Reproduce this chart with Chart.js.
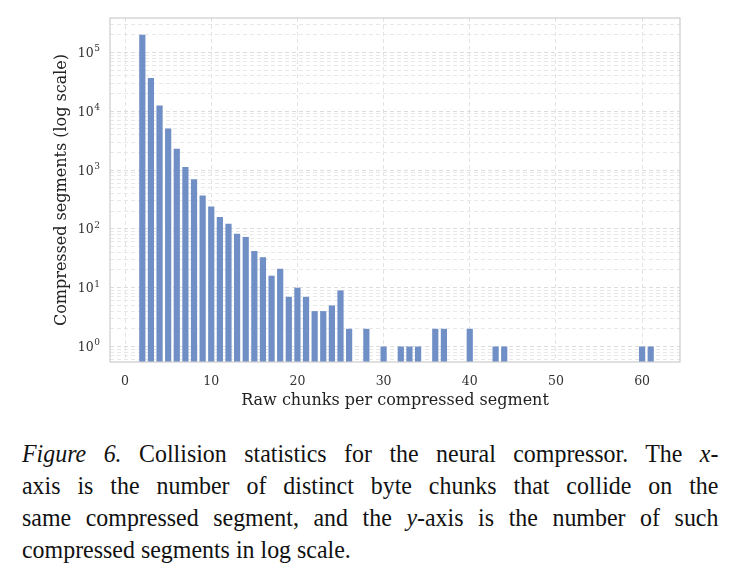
<!DOCTYPE html>
<html>
<head>
<meta charset="utf-8">
<script src="https://cdn.jsdelivr.net/npm/chart.js@4.4.1/dist/chart.umd.min.js"></script>
<style>
  html, body { margin: 0; padding: 0; background: #fff; }
  body { width: 739px; height: 574px; overflow: hidden; position: relative; }
  #wrap { position: absolute; left: 0; top: 0; width: 739px; height: 420px; }
  #caption {
    position: absolute; left: 22px; top: 438px; width: 757px;
    transform: scaleX(0.92); transform-origin: 0 0;
    font-family: "Liberation Serif", "Times New Roman", serif;
    font-size: 26px; line-height: 32px; color: #111;
  }
  #caption div { text-align: justify; text-align-last: justify; white-space: nowrap; }
  #caption div.last { text-align-last: left; }
  #caption i { font-style: italic; }
</style>
</head>
<body>
<div id="wrap"><canvas id="c" width="739" height="420"></canvas></div>
<div id="caption">
  <div><i>Figure 6.</i> Collision statistics for the neural compressor. The <i>x</i>-</div>
  <div>axis is the number of distinct byte chunks that collide on the</div>
  <div>same compressed segment, and the <i>y</i>-axis is the number of such</div>
  <div class="last">compressed segments in log scale.</div>
</div>
<script>
// Raw chunks per compressed segment (only non-empty bins)
const chunks = [2, 3, 4, 5, 6, 7, 8, 9, 10, 11, 12, 13, 14, 15, 16, 17, 18, 19, 20, 21, 22, 23, 24, 25, 26, 28, 30, 32, 33, 34, 36, 37, 40, 43, 44, 60, 61];
// Number of compressed segments
const segments = [200000, 37000, 12500, 5100, 2300, 1130, 700, 370, 240, 160, 122, 83, 73, 42, 33, 16, 21, 7, 10, 7, 4, 4, 5, 9, 2, 2, 1, 1, 1, 1, 2, 2, 2, 1, 1, 1, 1];
const xTicks = [0, 10, 20, 30, 40, 50, 60];
const yMajorTicks = [1, 10, 100, 1000, 10000, 100000];

const frame = {
  id: 'frame',
  afterDraw(chart) {
    const a = chart.chartArea, ctx = chart.ctx;
    ctx.save();
    ctx.strokeStyle = '#cccccc';
    ctx.lineWidth = 1.2;
    ctx.strokeRect(a.left, a.top, a.right - a.left, a.bottom - a.top);
    // y tick labels as 10 with superscript exponent
    const ys = chart.scales.y;
    ctx.fillStyle = '#333';
    ctx.textBaseline = 'alphabetic';
    yMajorTicks.forEach(v => {
      const py = ys.getPixelForValue(v);
      const e = String(Math.round(Math.log10(v)));
      ctx.font = '9px "DejaVu Serif"';
      const ew = ctx.measureText(e).width;
      const xr = a.left - 10;
      ctx.textAlign = 'right';
      ctx.fillText(e, xr, py - 1);
      ctx.font = '12.5px "DejaVu Serif"';
      ctx.fillText('10', xr - ew - 0.5, py + 4.5);
    });
    ctx.restore();
  }
};

new Chart(document.getElementById('c'), {
  type: 'bar',
  data: {
    datasets: [{
      data: chunks.map((x, i) => ({ x: x, y: segments[i] })),
      backgroundColor: 'rgb(112,143,198)',
      borderWidth: 0,
      barPercentage: 0.72,
      categoryPercentage: 1.0
    }]
  },
  options: {
    responsive: false,
    animation: false,
    plugins: { legend: { display: false }, tooltip: { enabled: false } },
    layout: { padding: { left: 0, right: 59, top: 18, bottom: 4 } },
    scales: {
      x: {
        type: 'linear',
        offset: false,
        min: -1.75, max: 64.4,
        afterBuildTicks(s) { s.ticks = xTicks.map(v => ({ value: v })); },
        afterFit(s) { s.height = 54; },
        grid: { offset: false, color: '#e3e3e3', lineWidth: 1, drawTicks: false },
        border: { display: false, dash: [4, 3] },
        ticks: {
          autoSkip: false, padding: 12, color: '#333',
          font: { family: 'DejaVu Serif', size: 12.5 },
          maxRotation: 0
        },
        title: {
          display: true, text: 'Raw chunks per compressed segment', color: '#222',
          font: { family: 'DejaVu Serif', size: 16 }, padding: { top: 6, bottom: 6 }
        }
      },
      y: {
        type: 'logarithmic',
        min: 0.545, max: 386000,
        afterBuildTicks(s) {
          const t = [];
          for (let e = -1; e <= 5; e++) {
            for (let m = 1; m <= 9; m++) {
              const v = m * Math.pow(10, e);
              if (v >= s.min && v <= s.max) t.push({ value: v, major: m === 1 });
            }
          }
          s.ticks = t;
        },
        afterFit(s) { s.width = 110; },
        grid: {
          color: (c) => (c.tick && c.tick.major) ? '#dcdcdc' : '#e8e8e8',
          lineWidth: 1, drawTicks: false
        },
        border: { display: false, dash: [4, 3] },
        ticks: {
          autoSkip: false, padding: 9, color: 'rgba(0,0,0,0)',
          font: { family: 'DejaVu Serif', size: 12 },
          callback() { return ''; }
        },
        title: {
          display: true, text: 'Compressed segments (log scale)', color: '#222',
          font: { family: 'DejaVu Serif', size: 16 }, padding: { top: 52, bottom: 52 }
        }
      }
    }
  },
  plugins: [frame]
});
</script>
</body>
</html>
